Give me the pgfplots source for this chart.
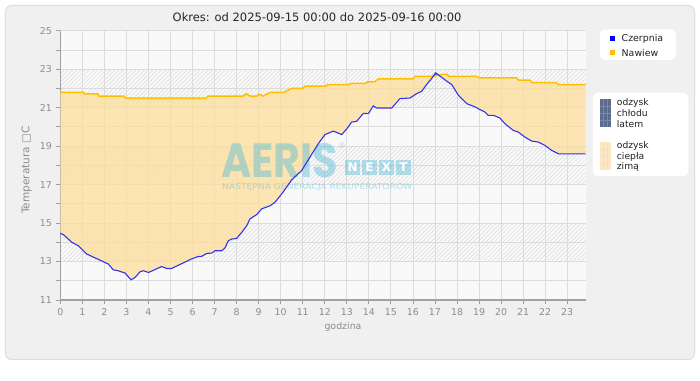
\documentclass[border=0pt]{standalone}
\usepackage{pgfplots}
\usepackage{pgfplotstable}
\pgfplotsset{compat=1.18}
\usepgfplotslibrary{fillbetween}
\usetikzlibrary{patterns.meta}
\usepackage{fontspec}
\setmainfont{DejaVu Sans}
\newfontfamily\aerisfont{Poppins}
\definecolor{panelbg}{HTML}{F0F0F0}
\definecolor{panelborder}{HTML}{DEDEDE}
\definecolor{plotbg}{HTML}{F9F9F9}
\definecolor{gridc}{HTML}{DCDCDC}
\definecolor{hatchc}{HTML}{DADADA}
\definecolor{axisc}{HTML}{A0A0A0}
\definecolor{tickc}{HTML}{8C8C8C}
\definecolor{czc}{HTML}{3333EE}
\definecolor{nwc}{HTML}{FFBF00}
\definecolor{warmfill}{HTML}{FFDE98}
\definecolor{coolfill}{HTML}{4A5A8A}
\definecolor{wm}{HTML}{42B6DA}
\definecolor{legtext}{HTML}{222222}
\definecolor{swcool}{HTML}{5B6B8E}
\definecolor{swwarm}{HTML}{FDE8C2}

\pgfplotstableread{
h v
0 21.8
1.05 21.8
1.1 21.72
1.7 21.72
1.75 21.6
2.9 21.6
2.95 21.5
6.6 21.5
6.7 21.6
8.3 21.6
8.45 21.72
8.6 21.6
8.9 21.6
9.03 21.7
9.2 21.6
9.55 21.8
10.15 21.8
10.5 22.0
11.0 22.0
11.1 22.12
12.05 22.12
12.15 22.2
13.1 22.2
13.2 22.26
13.85 22.26
13.95 22.34
14.25 22.34
14.45 22.5
16.0 22.5
16.1 22.62
16.9 22.62
17.3 22.73
17.55 22.73
17.65 22.62
18.9 22.62
19.0 22.55
20.7 22.55
20.8 22.43
21.3 22.43
21.4 22.3
22.5 22.3
22.6 22.2
23.84 22.2
}\nwdata

\pgfplotstableread{
h v
0 14.46
0.14 14.4
0.52 14.0
0.82 13.82
1.2 13.39
2.03 12.95
2.18 12.87
2.4 12.57
2.63 12.52
2.94 12.4
3.21 12.05
3.39 12.17
3.62 12.47
3.77 12.52
4.0 12.43
4.6 12.74
4.83 12.64
5.05 12.64
5.95 13.13
6.25 13.26
6.4 13.26
6.64 13.42
6.87 13.44
7.02 13.56
7.32 13.56
7.47 13.7
7.62 14.08
7.78 14.17
8.0 14.2
8.23 14.51
8.46 14.86
8.6 15.21
8.91 15.44
9.14 15.74
9.52 15.9
9.74 16.08
10.05 16.52
10.5 17.25
10.95 17.73
11.33 18.43
11.71 19.13
12.01 19.6
12.39 19.78
12.77 19.6
13.0 19.9
13.22 20.25
13.45 20.29
13.6 20.5
13.75 20.7
13.98 20.69
14.2 21.09
14.36 20.98
15.04 20.98
15.41 21.47
15.87 21.5
16.17 21.73
16.4 21.85
16.62 22.2
16.85 22.52
17.03 22.81
17.23 22.64
17.53 22.38
17.76 22.2
18.06 21.65
18.44 21.21
18.82 21.04
19.04 20.9
19.27 20.77
19.42 20.6
19.65 20.6
19.95 20.46
20.17 20.17
20.55 19.82
20.78 19.73
21.08 19.47
21.39 19.26
21.69 19.21
21.99 19.04
22.29 18.78
22.6 18.6
23.84 18.6
}\czdata

\begin{document}
\begin{tikzpicture}[x=1bp,y=1bp]
\begin{axis}[
  set layers,
  at={(60.3bp,80bp)}, anchor=south west,
  scale only axis, width=525.4bp, height=269.3bp,
  xmin=0, xmax=23.84, ymin=11, ymax=25,
  clip=false,
  axis x line*=bottom, axis y line*=left,
  axis line style={axisc, line width=1.2bp, -},
  xtick={0,...,23}, ytick={11,13,...,25}, minor ytick={12,14,...,24},
  grid=both,
  major grid style={gridc, line width=0.8bp},
  minor grid style={gridc, line width=0.8bp},
  tick align=outside, major tick length=4bp, minor tick length=4bp,
  tick style={axisc, line width=0.8bp},
  /pgf/number format/assume math mode=true,
  every tick label/.append style={font=\fontsize{9.4bp}{11bp}\selectfont, text=tickc},
  xticklabel style={yshift=-1bp},
  yticklabel style={xshift=-1bp},
]
\begin{pgfonlayer}{axis background}
% page, panel, plot background
\fill[white] (axis cs:-2.736,6.841) rectangle (axis cs:29.026,26.596);
\draw[panelborder, fill=panelbg, line width=1bp, rounded corners=6bp] (axis cs:-2.487,7.907) rectangle (axis cs:28.776,26.310);
\fill[plotbg] (axis cs:0,11) rectangle (axis cs:23.84,25);
% hatched bands
\fill[pattern={Lines[angle=45,distance=3bp,line width=0.5bp]}, pattern color=hatchc] (axis cs:0,13) rectangle (axis cs:23.84,15);
\fill[pattern={Lines[angle=45,distance=3bp,line width=0.5bp]}, pattern color=hatchc] (axis cs:0,17) rectangle (axis cs:23.84,19);
\fill[pattern={Lines[angle=45,distance=3bp,line width=0.5bp]}, pattern color=hatchc] (axis cs:0,21) rectangle (axis cs:23.84,23);
\end{pgfonlayer}

\addplot[name path=nw, draw=none, forget plot] table[x=h,y=v]{\nwdata};
\addplot[name path=cz, draw=none, forget plot] table[x=h,y=v]{\czdata};
\addplot[fill=warmfill, fill opacity=0.72, draw=none] fill between[of=nw and cz, split,
  every segment no 1/.style={fill=coolfill, fill opacity=0.9}];

% watermark
\node[anchor=base west, inner sep=0pt, text=wm, text opacity=0.4] at (axis cs:7.292,17.343)
  {\resizebox*{117bp}{34.5bp}{\aerisfont\bfseries AERIS}};
\node[inner sep=0pt, text=wm, text opacity=0.4, font=\fontsize{8bp}{8bp}\selectfont] at (axis cs:12.782,19.006) {®};
\fill[wm, fill opacity=0.38] (axis cs:12.918,18.304) rectangle (axis cs:13.617,17.498);
\fill[wm, fill opacity=0.38] (axis cs:13.685,18.304) rectangle (axis cs:14.384,17.498);
\fill[wm, fill opacity=0.38] (axis cs:14.452,18.304) rectangle (axis cs:15.150,17.498);
\fill[wm, fill opacity=0.38] (axis cs:15.219,18.304) rectangle (axis cs:15.917,17.498);
\node[text=white, font=\fontsize{12bp}{12bp}\selectfont\bfseries, inner sep=0pt] at (axis cs:13.267,17.899) {N};
\node[text=white, font=\fontsize{12bp}{12bp}\selectfont\bfseries, inner sep=0pt] at (axis cs:14.034,17.899) {E};
\node[text=white, font=\fontsize{12bp}{12bp}\selectfont\bfseries, inner sep=0pt] at (axis cs:14.801,17.899) {X};
\node[text=white, font=\fontsize{12bp}{12bp}\selectfont\bfseries, inner sep=0pt] at (axis cs:15.568,17.899) {T};
\node[anchor=base west, inner sep=0pt, text=wm, text opacity=0.4] at (axis cs:7.337,16.76)
  {\resizebox{190bp}{7.4bp}{NASTĘPNA GENERACJA REKUPERATORÓW}};

\addplot[draw=nwc, line width=1.5bp] table[x=h,y=v]{\nwdata};
\addplot[draw=czc, line width=1.1bp] table[x=h,y=v]{\czdata};
\end{axis}

% title
\node[anchor=base west, inner sep=0pt, font=\fontsize{11.5bp}{13bp}\selectfont, text=black!85] at (172.5,358) {Okres: od 2025-09-15 00:00 do 2025-09-16 00:00};
% axis labels
\node[inner sep=0pt, font=\fontsize{9.4bp}{11bp}\selectfont, text=tickc] at (343,53) {godzina};
\node[inner sep=0pt, rotate=90, font=\fontsize{10.5bp}{12bp}\selectfont, text=tickc] at (26.5,210) {Temperatura □C};

% legend 1
\fill[white, rounded corners=5bp] (600,320) rectangle (676,350.7);
\fill[blue] (609.6,339) rectangle (615,344.4);
\node[anchor=west, inner sep=0pt, font=\fontsize{9.4bp}{11bp}\selectfont, text=legtext] at (621.5,341.4) {Czerpnia};
\fill[nwc] (609.6,325) rectangle (615,330.4);
\node[anchor=west, inner sep=0pt, font=\fontsize{9.4bp}{11bp}\selectfont, text=legtext] at (621.5,327.4) {Nawiew};

% legend 2
\fill[white, rounded corners=5bp] (592.7,204) rectangle (688.3,287.3);
\fill[swcool] (600,253.3) rectangle (611,281);
\draw[white, opacity=0.2, line width=0.5bp] (603.7,253.3) -- (603.7,281) (607.4,253.3) -- (607.4,281)
  (600,260.2) -- (611,260.2) (600,267.1) -- (611,267.1) (600,274) -- (611,274);
\fill[swwarm] (600,210) rectangle (611,237.7);
\draw[gridc, opacity=0.6, line width=0.5bp] (603.7,210) -- (603.7,237.7) (607.4,210) -- (607.4,237.7)
  (600,216.9) -- (611,216.9) (600,223.8) -- (611,223.8) (600,230.7) -- (611,230.7);
\node[anchor=west, inner sep=0pt, font=\fontsize{9.2bp}{10.7bp}\selectfont, text=legtext] at (616.7,277.3) {odzysk};
\node[anchor=west, inner sep=0pt, font=\fontsize{9.2bp}{10.7bp}\selectfont, text=legtext] at (616.7,267) {chłodu};
\node[anchor=west, inner sep=0pt, font=\fontsize{9.2bp}{10.7bp}\selectfont, text=legtext] at (616.7,256.3) {latem};
\node[anchor=west, inner sep=0pt, font=\fontsize{9.2bp}{10.7bp}\selectfont, text=legtext] at (616.7,234) {odzysk};
\node[anchor=west, inner sep=0pt, font=\fontsize{9.2bp}{10.7bp}\selectfont, text=legtext] at (616.7,223.3) {ciepła};
\node[anchor=west, inner sep=0pt, font=\fontsize{9.2bp}{10.7bp}\selectfont, text=legtext] at (616.7,213) {zimą};
\end{tikzpicture}
\end{document}
